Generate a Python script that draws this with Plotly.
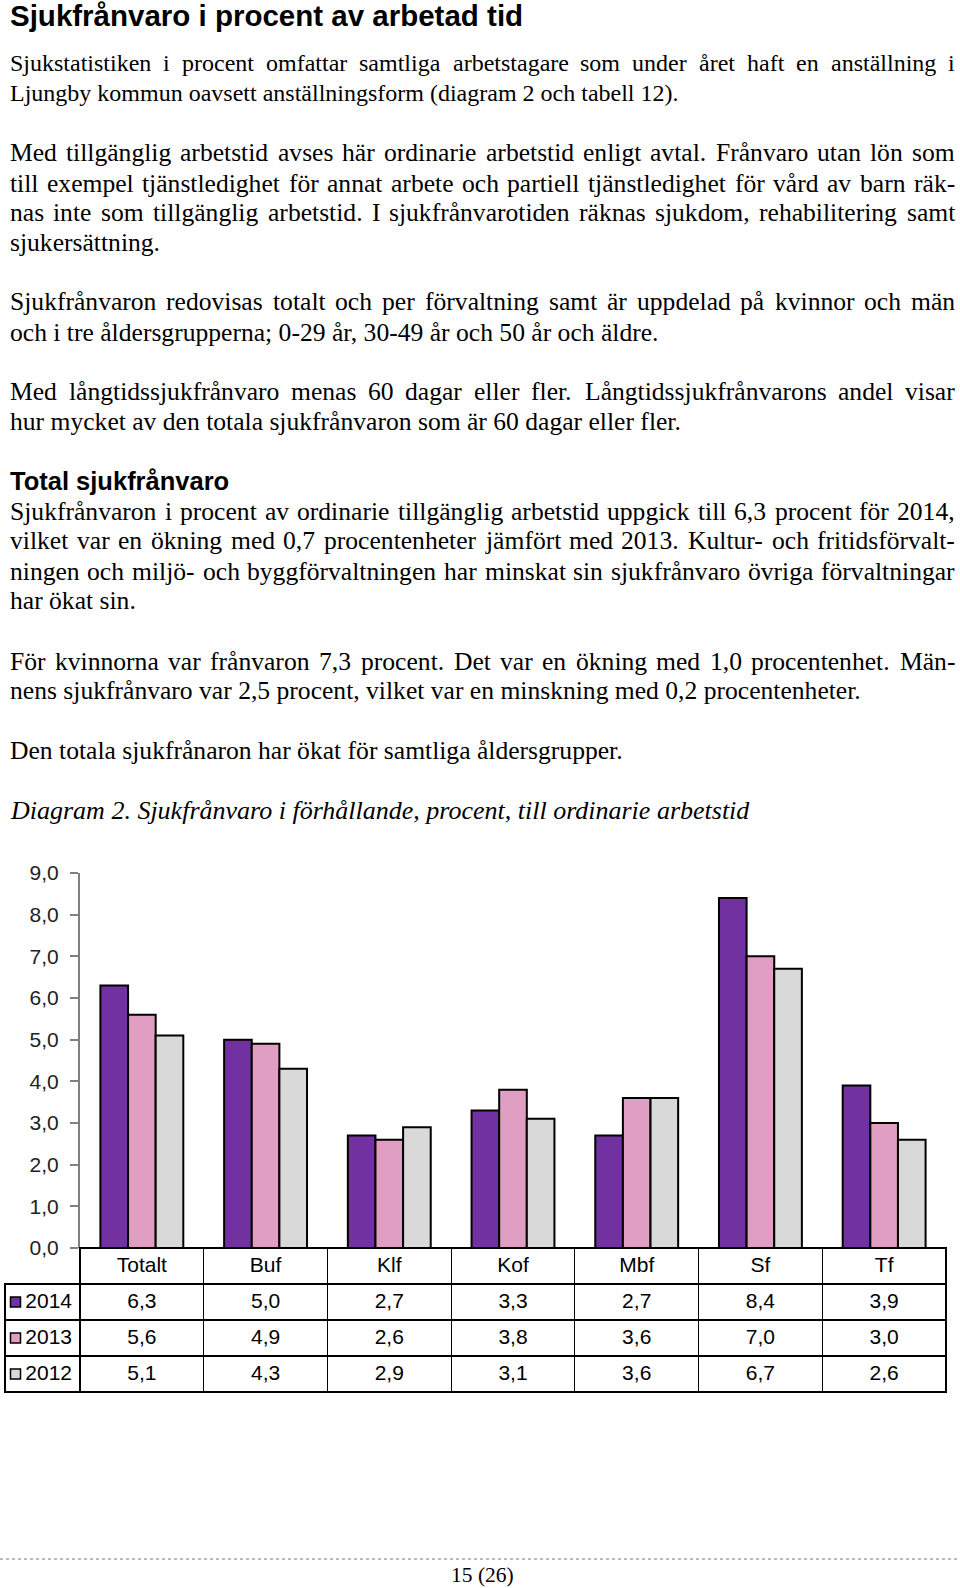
import plotly.graph_objects as go

# chart data
categories = ['Totalt', 'Buf', 'Klf', 'Kof', 'Mbf', 'Sf', 'Tf']
years = ['2014', '2013', '2012']
values_2014 = [6.3, 5.0, 2.7, 3.3, 2.7, 8.4, 3.9]
values_2013 = [5.6, 4.9, 2.6, 3.8, 3.6, 7.0, 3.0]
values_2012 = [5.1, 4.3, 2.9, 3.1, 3.6, 6.7, 2.6]
bar_colors = ['#7131A1', '#E09FC2', '#D9D9D9']
y_ticks = [0, 1, 2, 3, 4, 5, 6, 7, 8, 9]

# page text: (centre y in px, text, justified?, font size)
title = 'Sjukfrånvaro i procent av arbetad tid'
heading = 'Total sjukfrånvaro'
caption = 'Diagram 2. Sjukfrånvaro i förhållande, procent, till ordinarie arbetstid'
page_no = '15 (26)'
body_lines = [
    (62.8, 'Sjukstatistiken i procent omfattar samtliga arbetstagare som under året haft en anställning i', True, 24),
    (93.2, 'Ljungby kommun oavsett anställningsform (diagram 2 och tabell 12).', False, 24),
    (152.9, 'Med tillgänglig arbetstid avses här ordinarie arbetstid enligt avtal. Frånvaro utan lön som', True, 25.6),
    (183.3, 'till exempel tjänstledighet för annat arbete och partiell tjänstledighet för vård av barn räk-', True, 25.6),
    (212.7, 'nas inte som tillgänglig arbetstid. I sjukfrånvarotiden räknas sjukdom, rehabilitering samt', True, 25.6),
    (242.0, 'sjukersättning.', False, 25.6),
    (301.8, 'Sjukfrånvaron redovisas totalt och per förvaltning samt är uppdelad på kvinnor och män', True, 25.6),
    (332.2, 'och i tre åldersgrupperna; 0-29 år, 30-49 år och 50 år och äldre.', False, 25.6),
    (391.9, 'Med långtidssjukfrånvaro menas 60 dagar eller fler. Långtidssjukfrånvarons andel visar', True, 25.6),
    (421.3, 'hur mycket av den totala sjukfrånvaron som är 60 dagar eller fler.', False, 25.6),
    (511.4, 'Sjukfrånvaron i procent av ordinarie tillgänglig arbetstid uppgick till 6,3 procent för 2014,', True, 25.6),
    (540.8, 'vilket var en ökning med 0,7 procentenheter jämfört med 2013. Kultur- och fritidsförvalt-', True, 25.6),
    (571.1, 'ningen och miljö- och byggförvaltningen har minskat sin sjukfrånvaro övriga förvaltningar', True, 25.6),
    (600.5, 'har ökat sin.', False, 25.6),
    (661.3, 'För kvinnorna var frånvaron 7,3 procent. Det var en ökning med 1,0 procentenhet. Män-', True, 25.6),
    (690.6, 'nens sjukfrånvaro var 2,5 procent, vilket var en minskning med 0,2 procentenheter.', False, 25.6),
    (750.4, 'Den totala sjukfrånaron har ökat för samtliga åldersgrupper.', False, 25.6),
]

W, H = 960, 1588
SERIF = 'Liberation Serif'
SANS = 'Liberation Sans'
LEFT, RIGHT = 8, 955
TABLE_TOP, ROW_H = 1248, 36

# Times metrics (1/1000 em), used only to spread words on justified lines
TIMES = {' ': 250, ',': 250, '.': 250, ';': 278, '-': 333, '(': 333, ')': 333,
         'a': 444, 'b': 500, 'c': 444, 'd': 500, 'e': 444, 'f': 333, 'g': 500, 'h': 500,
         'i': 278, 'j': 278, 'k': 500, 'l': 278, 'm': 778, 'n': 500, 'o': 500, 'p': 500,
         'q': 500, 'r': 333, 's': 389, 't': 278, 'u': 500, 'v': 500, 'w': 722, 'x': 500,
         'y': 500, 'z': 444, 'å': 444, 'ä': 444, 'ö': 500,
         'A': 722, 'D': 722, 'F': 556, 'I': 333, 'J': 389, 'K': 722, 'L': 611, 'M': 889,
         'S': 556, 'T': 611}


def text_width(s, size):
    # small allowance for the annotation box padding
    return sum(TIMES.get(c, 500) for c in s) / 1000 * size + 2


def fmt(v):
    return f'{v:.1f}'.replace('.', ',')


def add_text(fig, text, x, y, size, family=SERIF, anchor='left'):
    fig.add_annotation(text=text, x=x / W, y=1 - y / H, xref='paper', yref='paper',
                       xanchor=anchor, yanchor='middle', showarrow=False,
                       font=dict(family=family, size=size, color='black'))


def add_line(fig, text, y, justify, size):
    if not justify:
        add_text(fig, text, LEFT, y, size)
        return
    words = text.split(' ')
    widths = [text_width(w, size) for w in words]
    gap = max((RIGHT - LEFT - sum(widths)) / (len(words) - 1), 0.2 * size)
    x = LEFT
    for w, ww in zip(words, widths):
        add_text(fig, w, x, y, size)
        x += ww + gap


fig = go.Figure()

for name, vals, color in zip(years, [values_2014, values_2013, values_2012], bar_colors):
    fig.add_trace(go.Bar(x=categories, y=vals, name=name,
                         marker=dict(color=color, line=dict(color='black', width=2))))

# data table under the bars
value_cols = [[fmt(a), fmt(b), fmt(c)] for a, b, c in zip(values_2014, values_2013, values_2012)]
n = len(categories)
clear = 'rgba(0,0,0,0)'
fig.add_trace(go.Table(
    domain=dict(x=[5 / W, 946 / W], y=[1 - (TABLE_TOP + 4 * ROW_H + 4) / H, 1 - TABLE_TOP / H]),
    columnwidth=[75] + [123.72] * n,
    header=dict(values=[''] + categories, height=ROW_H,
                fill_color=[clear] + ['white'] * n,
                line=dict(color=[clear] + ['black'] * n, width=1.2),
                align='center', font=dict(family=SANS, size=21, color='black')),
    cells=dict(values=[years] + value_cols, height=ROW_H,
               fill_color=[clear] + ['white'] * n,
               line=dict(color='black', width=1.2),
               align=['right'] + ['center'] * n,
               font=dict(family=SANS, size=21, color='black')),
))

# legend swatches in the first table column
fig.add_trace(go.Scatter(
    x=[15.5] * len(years), y=years, mode='markers', xaxis='x2', yaxis='y2',
    marker=dict(symbol='square', size=10, color=bar_colors, line=dict(color='black', width=1.5)),
    hoverinfo='skip'))

fig.update_layout(
    width=W, height=H,
    margin=dict(l=0, r=0, t=0, b=0, pad=0),
    paper_bgcolor='white', plot_bgcolor='rgba(0,0,0,0)',
    showlegend=False,
    barmode='group', bargap=0.33, bargroupgap=0,
    separators=', ',
    xaxis=dict(domain=[80 / W, 946 / W], categoryorder='array', categoryarray=categories,
               showticklabels=False, ticks='', showline=False, showgrid=False, zeroline=False,
               automargin=False),
    yaxis=dict(domain=[1 - 1248 / H, 1 - 873 / H], range=[0, 9], tickvals=y_ticks,
               tickformat='.1f', ticks='outside', ticklen=8, tickwidth=1.5, tickcolor='#7f7f7f',
               showline=True, linecolor='#7f7f7f', linewidth=2, showgrid=False, zeroline=False,
               tickfont=dict(family=SANS, size=21, color='#222222'), ticklabelstandoff=7,
               automargin=False),
    xaxis2=dict(domain=[5 / W, 80 / W], range=[5, 80], visible=False, anchor='y2',
                automargin=False),
    yaxis2=dict(domain=[1 - (TABLE_TOP + 4 * ROW_H) / H, 1 - (TABLE_TOP + ROW_H) / H],
                categoryorder='array', categoryarray=years[::-1], range=[-0.5, 2.5],
                visible=False, anchor='x2', automargin=False),
)

# page text
add_text(fig, f'<b>{title}</b>', LEFT, 16, 29.5, family=SANS)
for y, t, j, s in body_lines:
    add_line(fig, t, y, j, s)
add_text(fig, f'<b>{heading}</b>', LEFT, 481.0, 25.5, family=SANS)
add_text(fig, f'<i>{caption}</i>', LEFT, 810.1, 26)

# footer
fig.add_shape(type='line', xref='paper', yref='paper', x0=0, x1=1,
              y0=1 - 1559 / H, y1=1 - 1559 / H, line=dict(color='#777777', width=1, dash='dot'))
add_text(fig, page_no, 482, 1575, 21.5, anchor='center')

fig.write_html('out.html', config={'displayModeBar': False},
               post_script="document.body.style.margin='0';")
